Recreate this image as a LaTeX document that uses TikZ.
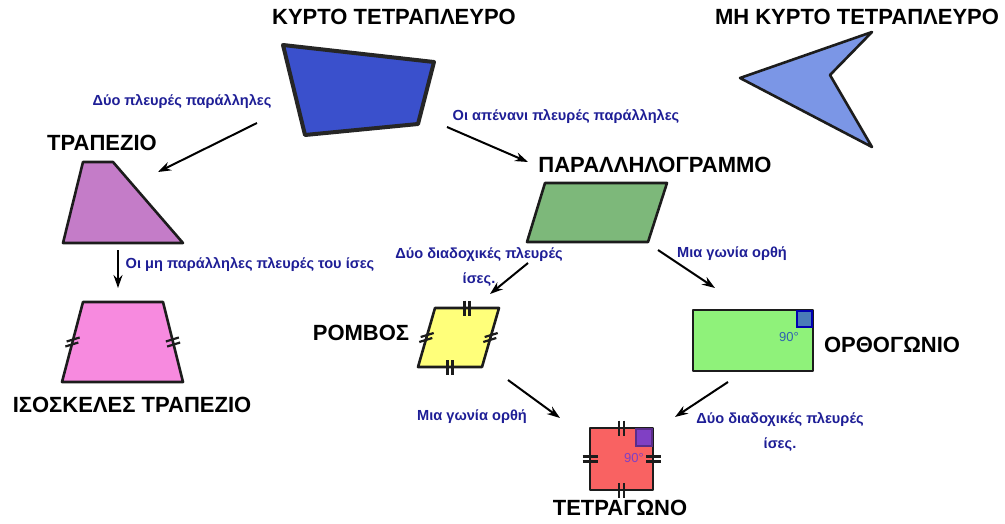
\documentclass[tikz,border=0pt]{standalone}
\usepackage{fontspec}
\setmainfont{Liberation Sans}
\usetikzlibrary{arrows.meta,decorations.markings,calc}

\definecolor{edgecol}{HTML}{1C1C1C}
\definecolor{notecol}{HTML}{1E1E96}
\definecolor{convexfill}{HTML}{3A50CC}
\definecolor{concavefill}{HTML}{7B96E6}
\definecolor{trapfill}{HTML}{C47CC8}
\definecolor{isofill}{HTML}{F78ADF}
\definecolor{parafill}{HTML}{7DB87A}
\definecolor{rhombfill}{HTML}{FFFF7A}
\definecolor{rectfill}{HTML}{8FF27A}
\definecolor{rectcorner}{HTML}{4A7BB8}
\definecolor{rectangle90}{HTML}{2F62B0}
\definecolor{squarefill}{HTML}{F96262}
\definecolor{squarecorner}{HTML}{8040C4}

% two equal-length marks of fixed slant at the middle of side #1--#2
\newcommand\slantticks[2]{%
  \path (#1) -- (#2) coordinate[pos=0.5] (tm);
  \coordinate (tmA) at ($(tm)!2.6pt!(#1)$);
  \coordinate (tmB) at ($(tm)!2.6pt!(#2)$);
  \draw[tickline] ([shift={(-6.5,2)}]tmA) -- ([shift={(6.5,-2)}]tmA)
                  ([shift={(-6.5,2)}]tmB) -- ([shift={(6.5,-2)}]tmB);}

\begin{document}
\begin{tikzpicture}[x=1pt,y=-1pt,
  title/.style={font=\bfseries\fontsize{22}{26}\selectfont, text=black, inner sep=0pt},
  note/.style={font=\bfseries\fontsize{14.6}{25}\selectfont, text=notecol, inner sep=0pt, align=center},
  figure/.style={draw=edgecol, line width=2.6pt, line join=round},
  arr/.style={-{Stealth[length=13pt,width=9pt]}, line width=2pt, draw=black},
  tickline/.style={line width=2.2pt, draw=edgecol},
  dticks/.style={decorate, decoration={markings, mark=at position 0.5 with
      {\draw[tickline] (-2.5,-7.5) -- (-2.5,7.5) (2.5,-7.5) -- (2.5,7.5);}}}
]
\useasboundingbox (0,0) rectangle (1005,523);

% ---------- convex and concave quadrilaterals ----------
\node[title] (convex) at (394,17) {ΚΥΡΤΟ ΤΕΤΡΑΠΛΕΥΡΟ};
\draw[figure, line width=4pt, draw=black!85, fill=convexfill]
  (283,45) -- (434,62) -- (418,124) -- (305,135) -- cycle;

\node[title] (concave) at (857,17) {ΜΗ ΚΥΡΤΟ ΤΕΤΡΑΠΛΕΥΡΟ};
\draw[figure, fill=concavefill]
  (872,32) -- (740,78) -- (872,147) -- (830,75) -- cycle;

% ---------- trapezium ----------
\node[title] (trap) at (102,143) {ΤΡΑΠΕΖΙΟ};
\draw[figure, fill=trapfill] (83,162) -- (113,162) -- (183,243) -- (63,243) -- cycle;

% ---------- isosceles trapezium ----------
\coordinate (i1) at (83,302);
\coordinate (i2) at (163,302);
\coordinate (i3) at (183,382);
\coordinate (i4) at (62,382);
\draw[figure, fill=isofill] (i1) -- (i2) -- (i3) -- (i4) -- cycle;
\slantticks{i4}{i1}
\slantticks{i2}{i3}
\node[title] (iso) at (132,405) {ΙΣΟΣΚΕΛΕΣ ΤΡΑΠΕΖΙΟ};

% ---------- parallelogram ----------
\node[title] (para) at (655,165) {ΠΑΡΑΛΛΗΛΟΓΡΑΜΜΟ};
\draw[figure, fill=parafill] (545,183) -- (667,183) -- (648,242) -- (527,242) -- cycle;

% ---------- rhombus ----------
\coordinate (r1) at (435,308);
\coordinate (r2) at (499,308);
\coordinate (r3) at (482,367);
\coordinate (r4) at (418,367);
\draw[figure, fill=rhombfill] (r1) -- (r2) -- (r3) -- (r4) -- cycle;
\path[dticks] (r1) -- (r2);
\path[dticks] (r3) -- (r4);
\slantticks{r2}{r3}
\slantticks{r4}{r1}
\node[title] (rhomb) at (361,333) {ΡΟΜΒΟΣ};

% ---------- rectangle ----------
\draw[figure, fill=rectfill] (693,310) rectangle (813,371);
\draw[line width=1.5pt, draw=blue!70!black, fill=rectcorner] (797,311) rectangle (812,327);
\node[font=\fontsize{13}{15}\selectfont, text=rectangle90, inner sep=0pt] (rect90) at (789,337) {90°};
\node[title] (rect) at (892,345) {ΟΡΘΟΓΩΝΙΟ};

% ---------- square ----------
\coordinate (s1) at (590,428);
\coordinate (s2) at (653,428);
\coordinate (s3) at (653,490);
\coordinate (s4) at (590,490);
\draw[figure, fill=squarefill] (s1) -- (s2) -- (s3) -- (s4) -- cycle;
\draw[line width=1.3pt, draw=squarecorner!70!black, fill=squarecorner] (636,429) rectangle (652,446);
\node[font=\fontsize{13}{15}\selectfont, text=squarecorner, inner sep=0pt] (sq90) at (634,458) {90°};
\path[dticks] (s1) -- (s2);
\path[dticks] (s2) -- (s3);
\path[dticks] (s3) -- (s4);
\path[dticks] (s4) -- (s1);
\node[title] (square) at (620,508) {ΤΕΤΡΑΓΩΝΟ};

% ---------- condition labels ----------
\node[note] (n1) at (182,102) {Δύο πλευρές παράλληλες};
\node[note] (n2) at (566,117) {Οι απένανι πλευρές παράλληλες};
\node[note] (n3) at (250,265) {Οι μη παράλληλες πλευρές του ίσες};
\node[note] (n4) at (479,267) {Δύο διαδοχικές πλευρές\\ίσες.};
\node[note] (n5) at (732,254) {Μια γωνία ορθή};
\node[note] (n6) at (472,417) {Μια γωνία ορθή};
\node[note] (n7) at (780,432) {Δύο διαδοχικές πλευρές\\ίσες.};

% ---------- arrows ----------
\coordinate (a1s) at (257,123); \coordinate (a1e) at (158,172);
\coordinate (a2s) at (447,127); \coordinate (a2e) at (528,162);
\coordinate (a3s) at (118,250); \coordinate (a3e) at (118,288);
\coordinate (a4s) at (528,263); \coordinate (a4e) at (490,294);
\coordinate (a5s) at (658,250); \coordinate (a5e) at (715,288);
\coordinate (a6s) at (508,380); \coordinate (a6e) at (560,418);
\coordinate (a7s) at (728,382); \coordinate (a7e) at (675,417);
\draw[arr] (a1s) -- (a1e);
\draw[arr] (a2s) -- (a2e);
\draw[arr] (a3s) -- (a3e);
\draw[arr] (a4s) -- (a4e);
\draw[arr] (a5s) -- (a5e);
\draw[arr] (a6s) -- (a6e);
\draw[arr] (a7s) -- (a7e);
\end{tikzpicture}
\end{document}
